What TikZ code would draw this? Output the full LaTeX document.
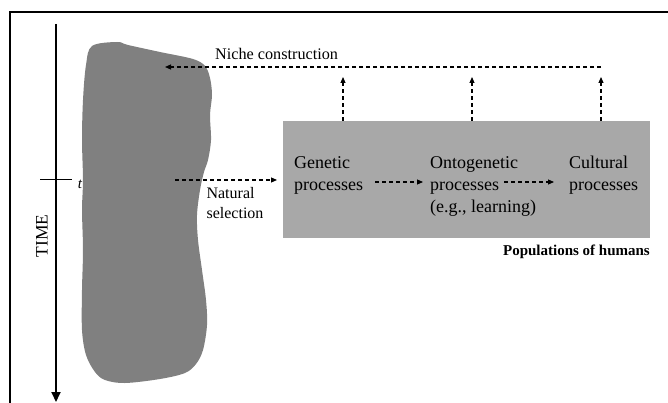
\documentclass[tikz,border=0pt]{standalone}
\usepackage{fontspec}
\setmainfont{Liberation Serif}
\usetikzlibrary{arrows.meta,calc}
\definecolor{blobgray}{HTML}{808080}
\definecolor{boxgray}{HTML}{A8A8A8}
\tikzset{
  da/.style={dash pattern=on 4pt off 3pt, line width=1.1pt, -{Triangle[length=6pt,width=5pt]}},
  lbl/.style={inner sep=0pt, font=\fontsize{18}{22}\selectfont, align=left},
  small/.style={inner sep=0pt, font=\fontsize{16}{20}\selectfont, align=left},
}
\begin{document}
\begin{tikzpicture}[x=1pt,y=-1pt]
\useasboundingbox (0,0) rectangle (668,403);
% frame (top and left)
\draw[line width=1.5pt] (668,12) -- (10,12) -- (10,403);
% time axis
\coordinate (ttop) at (56,24);
\coordinate (tbot) at (56,402);
\draw[line width=2pt, -{Triangle[length=10pt,width=9pt]}] (ttop) -- (tbot);
\coordinate (tickL) at (40,180);
\coordinate (tickR) at (72,180);
\draw[line width=1pt] (tickL) -- (tickR);
\node[inner sep=0pt, font=\fontsize{15}{16}\selectfont\itshape] (t) at (80,184) {t};
\node[inner sep=0pt, rotate=90, font=\fontsize{17.5}{20}\selectfont] (time) at (42,236) {TIME};
% blob
\fill[blobgray] plot[smooth cycle, tension=0.55] coordinates {
(92,46) (117,42) (128,45) (160,52) (193,59) (205,66) (210,78) (212,95) (210,115) (211,140)
(208,160) (204,172) (200,190) (197,215) (198,240) (202,270) (206,300) (207,325) (203,350)
(196,364) (185,373) (160,379) (125,383) (105,380) (95,372) (86,355) (82,330) (82,290)
(83,250) (82,210) (83,180) (82,140) (83,100) (86,65)};
% population box
\node[fill=boxgray, minimum width=367pt, minimum height=117pt, anchor=north west, inner sep=0pt] (box) at (283,121) {};
\node[lbl, anchor=north west] (gen) at (294,156) {Genetic\\processes};
\node[lbl, anchor=north west] (onto) at (430,156) {Ontogenetic\\processes\\(e.g., learning)};
\node[lbl, anchor=north west] (cult) at (569,156) {Cultural\\processes};
\node[inner sep=0pt, anchor=base east, font=\fontsize{15}{18}\selectfont\bfseries] (pop) at (650,255) {Populations of humans};
% internal arrows
\coordinate (g1) at (375,182);
\coordinate (g2) at (423,182);
\coordinate (o1) at (504,182);
\coordinate (o2) at (554,182);
\draw[da] (g1) -- (g2);
\draw[da] (o1) -- (o2);
% natural selection
\coordinate (ns1) at (175,180);
\coordinate (ns2) at (277,180);
\draw[da] (ns1) -- (ns2);
\node[small, anchor=north] (nat) at (235,187) {Natural\\selection};
% niche construction
\coordinate (v1) at (343,121);
\coordinate (v2) at (472,121);
\coordinate (v3) at (601,121);
\coordinate (u1) at (343,77);
\coordinate (u2) at (472,77);
\coordinate (u3) at (601,77);
\draw[da] (v1) -- (u1);
\draw[da] (v2) -- (u2);
\draw[da] (v3) -- (u3);
\coordinate (nr) at (601,67);
\coordinate (nl) at (165,67);
\draw[da] (nr) -- (nl);
\node[inner sep=0pt, anchor=base west, font=\fontsize{16.2}{18}\selectfont] (niche) at (215,60) {Niche construction};
\end{tikzpicture}
\end{document}
